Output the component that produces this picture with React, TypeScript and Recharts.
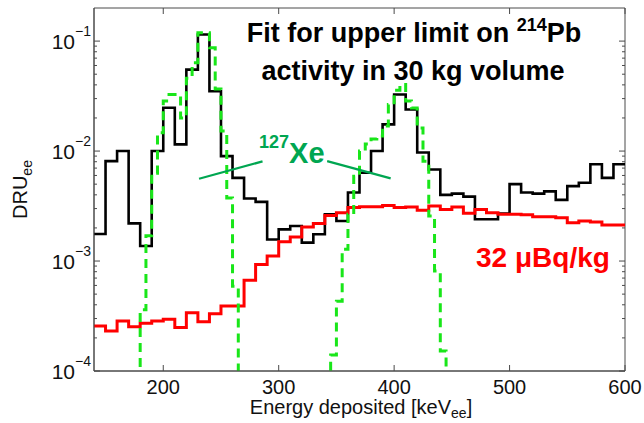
import { ComposedChart, Line, XAxis, YAxis, ReferenceArea, ReferenceLine } from 'recharts';

// plot box in page pixels
const W = 644;
const H = 423;
const PLOT = { left: 94, right: 625, top: 8, bottom: 371 };
const FONT = "'Liberation Sans', Arial, Helvetica, sans-serif";

// measured spectrum, 10 keV bins starting at 140 keV (DRU_ee)
const dataStart = 140;
const dataBin = 10;
const dataCounts = [
  1.76e-3, 8.1e-3, 1.0e-2, 2.2e-3, 1.37e-3, 1.0e-2,
  2.48e-2, 1.15e-2, 5.5e-2, 1.15e-1, 3.5e-2, 9.0e-3, 5.7e-3, 3.7e-3, 3.45e-3, 1.57e-3,
  1.94e-3, 2.08e-3, 1.47e-3, 1.75e-3, 2.66e-3, 2.31e-3, 4.2e-3, 6.35e-3, 1.0e-2, 1.75e-2,
  3.27e-2, 2.39e-2, 9.7e-3, 6.8e-3, 4.0e-3, 4.1e-3, 3.85e-3, 2.4e-3, 2.4e-3, 2.7e-3,
  5.0e-3, 4.2e-3, 4.1e-3, 4.3e-3, 3.6e-3, 4.8e-3, 5.15e-3, 7.6e-3, 5.7e-3, 7.6e-3,
];

// 214Pb model at the 32 uBq/kg upper limit, same binning
const pbLimit = [
  2.56e-4, 2.31e-4, 2.85e-4, 2.53e-4, 2.72e-4, 2.85e-4,
  2.95e-4, 2.48e-4, 3.39e-4, 2.81e-4, 3.32e-4, 3.9e-4, 3.9e-4, 6.7e-4, 9.3e-4, 1.11e-3,
  1.5e-3, 1.65e-3, 2.04e-3, 2.19e-3, 2.6e-3, 2.75e-3, 3.06e-3, 3.12e-3, 3.12e-3, 3.2e-3,
  3.06e-3, 3.1e-3, 2.89e-3, 3.16e-3, 2.94e-3, 3.1e-3, 2.72e-3, 2.94e-3, 2.75e-3, 2.66e-3,
  2.66e-3, 2.63e-3, 2.53e-3, 2.53e-3, 2.48e-3, 2.23e-3, 2.31e-3, 2.27e-3, 2.13e-3, 2.13e-3,
];

// 127Xe fit, 5 keV bins, zero outside the two peaks
const xeBin = 5;
const xePeakAStart = 180;
const xePeakA = [
  3.6e-4, 1.7e-3, 6.3e-3, 1.47e-2, 2.85e-2, 3.27e-2, 3.27e-2, 2.0e-2, 4.6e-2,
  6.35e-2, 1.19e-1, 1.19e-1, 8.7e-2, 3.66e-2, 1.52e-2, 3.74e-3, 5.9e-4,
];
const xePeakBStart = 345;
const xePeakB = [
  1.4e-4, 4.3e-4, 1.28e-3, 2.67e-3, 5.9e-3, 1.0e-2, 1.16e-2, 1.29e-2, 1.37e-2, 1.69e-2,
  2.65e-2, 3.57e-2, 4.04e-2, 2.85e-2, 2.46e-2, 1.62e-2, 8.1e-3, 2.57e-3, 8.1e-4, 1.52e-4,
];

const xRange = [140, 600];
const yRange = [1e-4, 0.2];
const xTicks = [200, 300, 400, 500, 600];
const decades = [1e-4, 1e-3, 1e-2, 1e-1];
const decadeLabels = ['\u22124', '\u22123', '\u22122', '\u22121'];

// "127Xe" pointer lines (keV, DRU)
const xeArrowLeft = [{ x: 231, y: 5.6e-3 }, { x: 286, y: 8.05e-3 }];
const xeArrowRight = [{ x: 342, y: 8.1e-3 }, { x: 397, y: 5.65e-3 }];

// empty bins sit below the log axis and get clipped
const FLOOR = 1e-6;

type Pt = { e: number; v: number };

function stairs(start: number, width: number, values: number[]): Pt[] {
  const pts = values.map((v, i) => ({ e: start + i * width, v: v > 0 ? v : FLOOR }));
  pts.push({ e: start + values.length * width, v: pts[pts.length - 1].v });
  return pts;
}

const dataPts = stairs(dataStart, dataBin, dataCounts);
const pbPts = stairs(dataStart, dataBin, pbLimit);
const xePts: Pt[] = [
  { e: xRange[0], v: FLOOR },
  ...stairs(xePeakAStart, xeBin, xePeakA).slice(0, -1),
  { e: xePeakAStart + xePeakA.length * xeBin, v: FLOOR },
  ...stairs(xePeakBStart, xeBin, xePeakB).slice(0, -1),
  { e: xePeakBStart + xePeakB.length * xeBin, v: FLOOR },
  { e: xRange[1], v: FLOOR },
];

const minorTicks = decades.flatMap((d) => [2, 3, 4, 5, 6, 7, 8, 9].map((m) => d * m)).filter((t) => t < yRange[1]);
const yTicks = [...decades, ...minorTicks].sort((a, b) => a - b);

const AXIS = '#4a4a4a';

function XTick(props: any) {
  const { x, payload } = props;
  return (
    <g>
      <line x1={x} x2={x} y1={PLOT.bottom} y2={PLOT.bottom - 6} stroke={AXIS} strokeWidth={1} />
      <line x1={x} x2={x} y1={PLOT.top} y2={PLOT.top + 6} stroke={AXIS} strokeWidth={1} />
      <text x={x} y={394} textAnchor="middle" fontSize={20} fontFamily={FONT} fill="#111">
        {payload.value}
      </text>
    </g>
  );
}

function YTick(props: any) {
  const { y, payload } = props;
  const idx = decades.indexOf(payload.value);
  const len = idx >= 0 ? 6 : 3;
  return (
    <g>
      <line x1={PLOT.left} x2={PLOT.left + len} y1={y} y2={y} stroke={AXIS} strokeWidth={1} />
      <line x1={PLOT.right} x2={PLOT.right - len} y1={y} y2={y} stroke={AXIS} strokeWidth={1} />
      {idx >= 0 && (
        <text x={91} y={y + 8} textAnchor="end" fontSize={21} fontFamily={FONT} fill="#111">
          10
          <tspan fontSize={14} dy={-13}>
            {decadeLabels[idx]}
          </tspan>
        </text>
      )}
    </g>
  );
}

export default function App() {
  return (
    <div style={{ position: 'absolute', left: 0, top: 0, width: W, height: H, background: '#fff' }}>
      <ComposedChart
        width={W}
        height={H}
        margin={{ top: PLOT.top, right: W - PLOT.right, bottom: H - PLOT.bottom - 30, left: PLOT.left - 60 }}
      >
        <XAxis
          dataKey="e"
          type="number"
          domain={xRange}
          ticks={xTicks}
          allowDataOverflow
          height={30}
          tickSize={0}
          tickMargin={0}
          tickLine={false}
          axisLine={{ stroke: AXIS }}
          tick={(p: any) => <XTick {...p} />}
        />
        <YAxis
          type="number"
          scale="log"
          domain={yRange}
          ticks={yTicks}
          allowDataOverflow
          width={60}
          tickSize={0}
          tickMargin={0}
          tickLine={false}
          axisLine={{ stroke: AXIS }}
          tick={(p: any) => <YTick {...p} />}
          interval={0}
        />
        <ReferenceArea x1={xRange[0]} x2={xRange[1]} y1={yRange[0]} y2={yRange[1]} fill="none" stroke={AXIS} strokeWidth={1} />
        <Line data={dataPts} dataKey="v" type="stepAfter" stroke="#000" strokeWidth={2.6} dot={false} isAnimationActive={false} />
        <Line data={pbPts} dataKey="v" type="stepAfter" stroke="#ff0000" strokeWidth={3} dot={false} isAnimationActive={false} />
        <Line
          data={xePts}
          dataKey="v"
          type="stepAfter"
          stroke="#19e619"
          strokeWidth={3}
          strokeDasharray="9 6"
          dot={false}
          isAnimationActive={false}
        />
        <ReferenceLine segment={xeArrowLeft} stroke="#00a651" strokeWidth={2.2} />
        <ReferenceLine segment={xeArrowRight} stroke="#00a651" strokeWidth={2.2} />
      </ComposedChart>
      <svg width={W} height={H} style={{ position: 'absolute', left: 0, top: 0, pointerEvents: 'none' }} fontFamily={FONT}>
        <text x={414} y={42} textAnchor="middle" fontSize={27} fontWeight="bold" fill="#000">
          Fit for upper limit on{' '}
          <tspan fontSize={18} dy={-11}>
            214
          </tspan>
          <tspan dy={11}>Pb</tspan>
        </text>
        <text x={413} y={80} textAnchor="middle" fontSize={27} fontWeight="bold" fill="#000">
          activity in 30 kg volume
        </text>
        <text x={259} y={163} fontSize={29} fontWeight="bold" fill="#00a651">
          <tspan fontSize={18} dy={-15}>
            127
          </tspan>
          <tspan dy={15}>Xe</tspan>
        </text>
        <text x={476} y={267} fontSize={28} fontWeight="bold" fill="#ff0000">
          32 {'\u03bc'}Bq/kg
        </text>
        <text x={361} y={414} textAnchor="middle" fontSize={20} fill="#111">
          Energy deposited [keV
          <tspan fontSize={14} dy={4}>
            ee
          </tspan>
          <tspan dy={-4}>]</tspan>
        </text>
        <text transform="translate(27,219) rotate(-90)" fontSize={20} fill="#111">
          DRU
          <tspan fontSize={14} dy={5}>
            ee
          </tspan>
        </text>
      </svg>
    </div>
  );
}
